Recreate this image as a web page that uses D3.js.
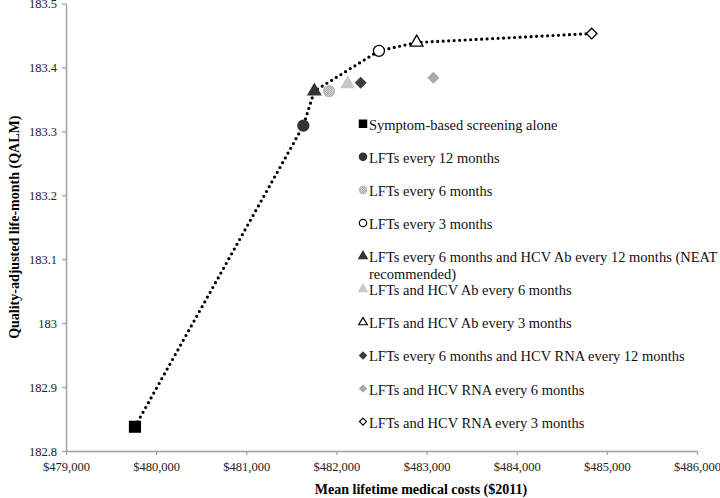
<!DOCTYPE html>
<html>
<head>
<meta charset="utf-8">
<script src="https://cdn.jsdelivr.net/npm/d3@7"></script>
<style>
    body { margin: 0; background: #fff; }
    svg { display: block; font-family: "Liberation Serif", "Times New Roman", serif; }
</style>
</head>
<body>
<div id="chart"></div>
<script>
// strategies, in legend order
var strategies = [
    "Symptom-based screening alone",
    "LFTs every 12 months",
    "LFTs every 6 months",
    "LFTs every 3 months",
    "LFTs every 6 months and HCV Ab every 12 months (NEAT recommended)",
    "LFTs and HCV Ab every 6 months",
    "LFTs and HCV Ab every 3 months",
    "LFTs every 6 months and HCV RNA every 12 months",
    "LFTs and HCV RNA every 6 months",
    "LFTs and HCV RNA every 3 months"
];
var costs = [479765, 481633, 481918, 482472, 481755, 482125, 482890, 482269, 483075, 484832];
var qalms = [182.838, 183.309, 183.363, 183.426, 183.363, 183.374, 183.439, 183.376, 183.384, 183.453];
// efficient frontier (indices into strategies)
var frontier = [0, 1, 4, 3, 6, 9];
var xTicks = [479000, 480000, 481000, 482000, 483000, 484000, 485000, 486000];
var yTicks = [182.8, 182.9, 183, 183.1, 183.2, 183.3, 183.4, 183.5];

// marker look per strategy
var markers = [
    { shape: "square", fill: "#000", stroke: "#000", size: 118 },
    { shape: "circle", fill: "#333", stroke: "#333", size: 95 },
    { shape: "circle", fill: "url(#hatch)", stroke: "#bbb", size: 95 },
    { shape: "circle", fill: "#fff", stroke: "#000", size: 95 },
    { shape: "triangle", fill: "#333", stroke: "#333", size: 70 },
    { shape: "triangle", fill: "#c8c8c8", stroke: "#c8c8c8", size: 70 },
    { shape: "triangle", fill: "#fff", stroke: "#000", size: 70 },
    { shape: "diamond", fill: "#3c3c3c", stroke: "#3c3c3c", size: 52 },
    { shape: "diamond", fill: "#aaa", stroke: "#aaa", size: 52 },
    { shape: "diamond", fill: "#fff", stroke: "#000", size: 56 }
];

var width = 720;
var height = 498;
var plotLeft = 66, plotRight = 697, plotTop = 3.5, plotBottom = 451;

var svg = d3.select("#chart")
    .append("svg")
    .attr("width", width)
    .attr("height", height);

var defs = svg.append("defs");
var pat = defs.append("pattern")
    .attr("id", "hatch")
    .attr("width", 2)
    .attr("height", 2)
    .attr("patternUnits", "userSpaceOnUse");
pat.append("rect").attr("width", 2).attr("height", 2).attr("fill", "#e0e0e0");
pat.append("rect").attr("width", 1).attr("height", 1).attr("fill", "#999");
pat.append("rect").attr("x", 1).attr("y", 1).attr("width", 1).attr("height", 1).attr("fill", "#999");

var x = d3.scaleLinear().domain([479000, 486000]).range([plotLeft, plotRight]);
var y = d3.scaleLinear().domain([182.8, 183.5]).range([plotBottom, plotTop]);

var fmt = d3.format("$,");

var xAxis = svg.append("g")
    .attr("transform", "translate(0," + plotBottom + ")")
    .call(d3.axisBottom(x).tickValues(xTicks).tickFormat(fmt).tickSize(4).tickSizeOuter(0));
var yAxis = svg.append("g")
    .attr("transform", "translate(" + plotLeft + ",0)")
    .call(d3.axisLeft(y).tickValues(yTicks).tickFormat(function(d) { return String(+d.toFixed(1)); }).tickSize(4).tickSizeOuter(0));

[xAxis, yAxis].forEach(function(ax) {
    ax.attr("font-family", null).attr("font-size", null);
    ax.select(".domain").attr("stroke", "#a0a0a0").attr("stroke-width", 1.5);
    ax.selectAll(".tick line").attr("stroke", "#a0a0a0").attr("stroke-width", 1.2);
    ax.selectAll(".tick text")
        .style("font-family", "'Liberation Serif', serif")
        .style("font-size", "12.5px")
        .attr("fill", "#222");
});
xAxis.selectAll(".tick text").attr("dy", "1.05em");
yAxis.selectAll(".tick text").attr("x", -9);

svg.append("text")
    .attr("x", 421)
    .attr("y", 494)
    .attr("text-anchor", "middle")
    .attr("font-weight", "bold")
    .attr("font-size", 14)
    .text("Mean lifetime medical costs ($2011)");

svg.append("text")
    .attr("transform", "translate(19," + ((plotTop + plotBottom) / 2) + ") rotate(-90)")
    .attr("text-anchor", "middle")
    .attr("font-weight", "bold")
    .attr("font-size", 14)
    .text("Quality-adjusted life-month (QALM)");

// frontier line
var line = d3.line()
    .x(function(i) { return x(costs[i]); })
    .y(function(i) { return y(qalms[i]); });

svg.append("path")
    .attr("d", line(frontier))
    .attr("fill", "none")
    .attr("stroke", "#000")
    .attr("stroke-width", 3.2)
    .attr("stroke-linecap", "round")
    .attr("stroke-dasharray", "0,5.5");

var shapes = { square: d3.symbolSquare, circle: d3.symbolCircle, triangle: d3.symbolTriangle, diamond: d3.symbolSquare };

function symbolPath(m, scale) {
    return d3.symbol().type(shapes[m.shape]).size(m.size * scale)();
}

svg.selectAll(".pt")
    .data(strategies)
    .enter()
    .append("path")
    .attr("class", "pt")
    .attr("d", function(d, i) { return symbolPath(markers[i], 1); })
    .attr("transform", function(d, i) {
        var t = "translate(" + x(costs[i]) + "," + y(qalms[i]) + ")";
        if (markers[i].shape == "diamond") t += " rotate(45)";
        return t;
    })
    .attr("fill", function(d, i) { return markers[i].fill; })
    .attr("stroke", function(d, i) { return markers[i].stroke; })
    .attr("stroke-width", 1.3);

// legend
var legendX = 363;
var legendY = 124.7;
var legendStep = 33.1;

var legend = svg.selectAll(".legend")
    .data(strategies)
    .enter()
    .append("g")
    .attr("class", "legend")
    .attr("transform", function(d, i) {
        return "translate(" + legendX + "," + (legendY + i * legendStep) + ")";
    });

legend.append("path")
    .attr("d", function(d, i) { return symbolPath(markers[i], 0.45); })
    .attr("transform", function(d, i) {
        return markers[i].shape == "diamond" ? "translate(0,-1) rotate(45)" : "translate(0,-1)";
    })
    .attr("fill", function(d, i) { return markers[i].fill; })
    .attr("stroke", function(d, i) { return markers[i].stroke; })
    .attr("stroke-width", 1.2);

legend.append("text")
    .attr("x", 6)
    .attr("dy", "0.35em")
    .attr("font-size", 14.5)
    .attr("fill", "#111")
    .each(function(d) {
        var el = d3.select(this);
        var words = d.split(" ");
        var ln = [];
        var tspan = el.append("tspan").attr("x", 6);
        for (var k = 0; k < words.length; k++) {
            ln.push(words[k]);
            tspan.text(ln.join(" "));
            if (tspan.node().getComputedTextLength() > 350 && ln.length > 1) {
                ln.pop();
                tspan.text(ln.join(" "));
                ln = [words[k]];
                tspan = el.append("tspan").attr("x", 6).attr("dy", "1.15em").text(words[k]);
            }
        }
    });
</script>
</body>
</html>
